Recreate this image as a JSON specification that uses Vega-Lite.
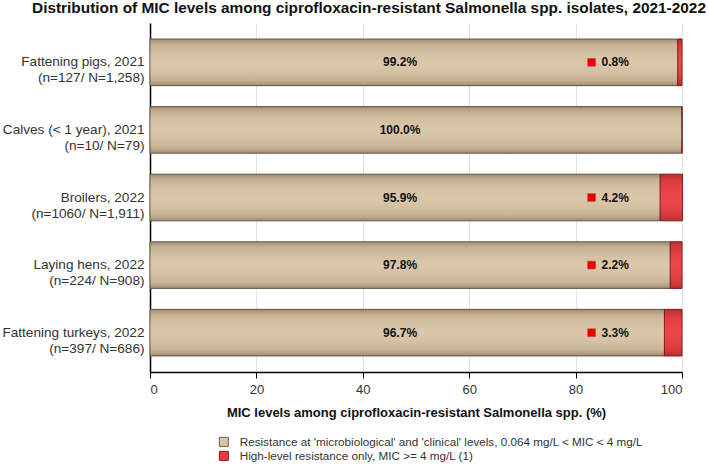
{
  "$schema": "https://vega.github.io/schema/vega-lite/v6.json",
  "autosize": {"type": "none"},
  "width": 532,
  "height": 349,
  "padding": {"left": 150, "top": 23, "right": 27, "bottom": 92},
  "background": "white",
  "title": {
    "text": "Distribution of MIC levels among ciprofloxacin-resistant Salmonella spp. isolates, 2021-2022",
    "font": "Liberation Sans",
    "fontSize": 15.4,
    "fontWeight": "bold",
    "color": "#111",
    "anchor": "middle",
    "frame": "group",
    "dx": -47,
    "offset": 7
  },
  "data": {
    "values": [
      {"group": "Fattening pigs, 2021|(n=127/ N=1,258)", "category": "Resistance at 'microbiological' and 'clinical' levels, 0.064 mg/L < MIC < 4 mg/L", "value": 99.2},
      {"group": "Fattening pigs, 2021|(n=127/ N=1,258)", "category": "High-level resistance only, MIC >= 4 mg/L (1)", "value": 0.8},
      {"group": "Calves (< 1 year), 2021|(n=10/ N=79)", "category": "Resistance at 'microbiological' and 'clinical' levels, 0.064 mg/L < MIC < 4 mg/L", "value": 100.0},
      {"group": "Calves (< 1 year), 2021|(n=10/ N=79)", "category": "High-level resistance only, MIC >= 4 mg/L (1)", "value": 0.0},
      {"group": "Broilers, 2022|(n=1060/ N=1,911)", "category": "Resistance at 'microbiological' and 'clinical' levels, 0.064 mg/L < MIC < 4 mg/L", "value": 95.9},
      {"group": "Broilers, 2022|(n=1060/ N=1,911)", "category": "High-level resistance only, MIC >= 4 mg/L (1)", "value": 4.2},
      {"group": "Laying hens, 2022|(n=224/ N=908)", "category": "Resistance at 'microbiological' and 'clinical' levels, 0.064 mg/L < MIC < 4 mg/L", "value": 97.8},
      {"group": "Laying hens, 2022|(n=224/ N=908)", "category": "High-level resistance only, MIC >= 4 mg/L (1)", "value": 2.2},
      {"group": "Fattening turkeys, 2022|(n=397/ N=686)", "category": "Resistance at 'microbiological' and 'clinical' levels, 0.064 mg/L < MIC < 4 mg/L", "value": 96.7},
      {"group": "Fattening turkeys, 2022|(n=397/ N=686)", "category": "High-level resistance only, MIC >= 4 mg/L (1)", "value": 3.3}
    ]
  },
  "transform": [
    {"calculate": "format(datum.value, '.1f') + '%'", "as": "label"},
    {"calculate": "indexof(datum.category, 'High') === 0", "as": "isHigh"}
  ],
  "encoding": {
    "y": {
      "field": "group",
      "type": "nominal",
      "sort": null,
      "scale": {"paddingInner": 0.31, "paddingOuter": 0.237},
      "axis": {
        "title": null,
        "labelExpr": "split(datum.value, '|')",
        "labelFont": "Liberation Sans",
        "labelFontSize": 13.6,
        "labelColor": "#333",
        "labelLineHeight": 16,
        "labelPadding": 6,
        "ticks": false,
        "domainColor": "#000",
        "domainWidth": 1.5,
        "grid": false
      }
    }
  },
  "layer": [
    {
      "mark": {"type": "bar", "strokeWidth": 1},
      "encoding": {
        "x": {
          "field": "value",
          "type": "quantitative",
          "stack": "zero",
          "scale": {"domain": [0, 100], "nice": false},
          "axis": {
            "values": [0, 20, 40, 60, 80, 100],
            "title": "MIC levels among ciprofloxacin-resistant Salmonella spp. (%)",
            "titleFont": "Liberation Sans",
            "titleFontSize": 13,
            "titleFontWeight": "bold",
            "titleColor": "#111",
            "titlePadding": 10,
            "labelFont": "Liberation Sans",
            "labelFontSize": 13,
            "labelColor": "#333",
            "labelPadding": 5,
            "tickColor": "#000",
            "tickSize": 6,
            "domainColor": "#000",
            "domainWidth": 1.5,
            "grid": true,
            "gridColor": "#e3e3e3"
          }
        },
        "color": {
          "field": "category",
          "type": "nominal",
          "scale": {
            "domain": [
              "Resistance at 'microbiological' and 'clinical' levels, 0.064 mg/L < MIC < 4 mg/L",
              "High-level resistance only, MIC >= 4 mg/L (1)"
            ],
            "range": ["#d9c4a5", "#ec3b3f"]
          },
          "legend": {
            "title": null,
            "orient": "none",
            "legendX": 68,
            "legendY": 413,
            "direction": "vertical",
            "symbolType": "square",
            "symbolSize": 81,
            "symbolStrokeColor": "#6b5545",
            "symbolStrokeWidth": 1,
            "labelFont": "Liberation Sans",
            "labelFontSize": 11.7,
            "labelColor": "#333",
            "labelLimit": 600,
            "rowPadding": 0,
            "labelOffset": 10
          }
        },
        "stroke": {
          "field": "category",
          "type": "nominal",
          "scale": {
            "domain": [
              "Resistance at 'microbiological' and 'clinical' levels, 0.064 mg/L < MIC < 4 mg/L",
              "High-level resistance only, MIC >= 4 mg/L (1)"
            ],
            "range": ["#6e6152", "#8a1a1a"]
          },
          "legend": null
        },
        "order": {"field": "category", "sort": "descending"}
      }
    },
    {
      "transform": [{"filter": "!datum.isHigh"}],
      "mark": {
        "type": "bar",
        "fill": {
          "gradient": "linear",
          "x1": 0, "y1": 0, "x2": 0, "y2": 1,
          "stops": [
            {"offset": 0, "color": "rgba(60,40,20,0.35)"},
            {"offset": 0.12, "color": "rgba(60,40,20,0.12)"},
            {"offset": 0.5, "color": "rgba(255,255,255,0.05)"},
            {"offset": 0.88, "color": "rgba(60,40,20,0.12)"},
            {"offset": 1, "color": "rgba(60,40,20,0.35)"}
          ]
        }
      },
      "encoding": {
        "x": {"datum": 0, "type": "quantitative"},
        "x2": {"datum": 100}
      }
    },
    {
      "transform": [{"filter": "!datum.isHigh"}],
      "mark": {"type": "text", "font": "Liberation Sans", "fontSize": 12, "fontWeight": "bold", "color": "#111", "align": "center", "baseline": "middle"},
      "encoding": {
        "x": {"datum": 47, "type": "quantitative"},
        "text": {"field": "label"}
      }
    },
    {
      "transform": [{"filter": "datum.isHigh && datum.value > 0"}],
      "mark": {"type": "point", "shape": "square", "filled": true, "size": 60, "color": "#f00000", "opacity": 1, "stroke": "#c03030", "strokeWidth": 0.5},
      "encoding": {
        "x": {"datum": 83, "type": "quantitative"}
      }
    },
    {
      "transform": [{"filter": "datum.isHigh && datum.value > 0"}],
      "mark": {"type": "text", "font": "Liberation Sans", "fontSize": 12, "fontWeight": "bold", "color": "#111", "align": "left", "baseline": "middle", "dx": 10},
      "encoding": {
        "x": {"datum": 83, "type": "quantitative"},
        "text": {"field": "label"}
      }
    }
  ],
  "config": {"view": {"stroke": null}}
}
